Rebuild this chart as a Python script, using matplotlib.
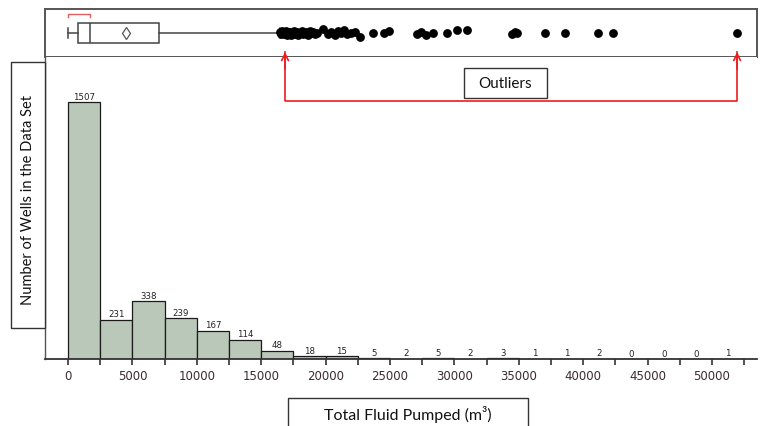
import matplotlib.pyplot as plt
from matplotlib.patches import Rectangle

# histogram of total fluid pumped per well (bin width 2500 m3)
bin_starts = [0, 2500, 5000, 7500, 10000, 12500, 15000, 17500, 20000, 22500, 25000,
              27500, 30000, 32500, 35000, 37500, 40000, 42500, 45000, 47500, 50000]
counts = [1507, 231, 338, 239, 167, 114, 48, 18, 15, 5, 2,
          5, 2, 3, 1, 1, 2, 0, 0, 0, 1]
bin_width = 2500
tick_labels = [0, 5000, 10000, 15000, 20000, 25000, 30000, 35000, 40000, 45000, 50000]

# box plot summary
q1, median, q3 = 776, 1708, 7065
mean_val = 4503
whisker_lo, whisker_hi = 0, 16460
outliers = [16470, 16560, 16650, 16740, 16820, 16900, 16990, 17080, 17170, 17260,
            17350, 17440, 17540, 17640, 17760, 17880, 18000, 18130, 18260, 18380,
            18500, 18620, 18750, 18900, 19050, 19200, 19350, 19800, 20150, 20400,
            20700, 21000, 21200, 21450, 21700, 22000, 22300, 22700, 23700, 24500,
            24950, 27100, 27400, 27800, 28300, 29400, 30200, 31000, 34500, 34700,
            34850, 37000, 38600, 41150, 42300, 51950]
jitter = [0.02, -0.03, 0.04, -0.02, 0.0, 0.05, -0.04, 0.02, -0.01, 0.03,
          -0.05, 0.01, 0.04, -0.02, 0.03, -0.04, 0.01, 0.05, -0.03, 0.0,
          0.02, -0.05, 0.04, -0.01, 0.03, -0.03, 0.0, 0.08, -0.02, 0.03,
          -0.05, 0.04, -0.01, 0.06, -0.03, 0.0, 0.03, -0.08, 0.0, 0.01,
          0.04, -0.02, 0.02, -0.04, -0.01, 0.0, 0.06, 0.06, -0.02, 0.03,
          0.0, 0.0, 0.0, 0.0, 0.0, 0.0]

W, H = 761, 427
fig = plt.figure(figsize=(W / 100, H / 100), dpi=100)

x_lo, x_hi = -1786, 53494
ax_box = fig.add_axes([45 / W, 1 - 58 / H, 712 / W, 48 / H])
ax = fig.add_axes([45 / W, 1 - 360 / H, 712 / W, 302 / H], sharex=ax_box)

# ---- histogram
ax.bar(bin_starts, counts, width=bin_width, align='edge', color='#bac8b9',
       edgecolor='#1a1a1a', linewidth=0.9)
for xs, c in zip(bin_starts, counts):
    ax.text(xs + bin_width / 2, c + 8, str(c), ha='center', va='bottom',
            fontsize=6.2, color='#222222')
ax.set_xlim(x_lo, x_hi)
ax.set_ylim(0, 1771)
ax.set_yticks([])
for s in ['top', 'right']:
    ax.spines[s].set_visible(False)
ax.spines['bottom'].set_linewidth(1.3)
ax.spines['bottom'].set_color('#333333')
ax.spines['left'].set_linewidth(1.0)
ax.spines['left'].set_color('#555555')
ax.set_xticks(bin_starts + [52500])
ax.set_xticklabels([str(b) if b in tick_labels else '' for b in bin_starts + [52500]],
                   fontsize=8.5, color='#3b2b30')
ax.tick_params(axis='x', length=4, width=1.2, color='#333333', pad=3)

# ---- box plot
stats = [dict(q1=q1, med=median, q3=q3, mean=mean_val, whislo=whisker_lo,
              whishi=whisker_hi, fliers=[])]
line_kw = dict(color='#444444', linewidth=1.1)
ax_box.bxp(stats, positions=[0.5], widths=0.4, vert=False, showmeans=True,
           showfliers=False, patch_artist=True,
           boxprops=dict(facecolor='white', edgecolor='#444444', linewidth=1.1),
           medianprops=line_kw, whiskerprops=line_kw, capprops=line_kw,
           meanprops=dict(marker='d', markerfacecolor='white', markeredgecolor='#555555',
                          markersize=6, markeredgewidth=0.9))
ax_box.plot(outliers, [0.5 + j for j in jitter], 'o', color='black', markersize=5.3,
            zorder=5)
ax_box.plot([whisker_lo, whisker_lo, median, median], [0.83, 0.9, 0.9, 0.83],
            color='#e06060', linewidth=1.0)
ax_box.set_ylim(0, 1)
ax_box.set_yticks([])
ax_box.tick_params(axis='x', bottom=False, labelbottom=False)
for s in ax_box.spines.values():
    s.set_linewidth(1.4)
    s.set_color('#555555')

# ---- outlier annotation
tr = ax.get_xaxis_transform()
red = '#ee1c1c'
ax.plot([outliers[0] + 380, outliers[0] + 380, outliers[-1], outliers[-1]],
        [1.0166, 0.854, 0.854, 1.0166], transform=tr, color=red, linewidth=1.2,
        clip_on=False)
for xv in [outliers[0] + 380, outliers[-1]]:
    ax.annotate('', xy=(xv, 1.0166), xytext=(xv, 0.96), xycoords=tr, textcoords=tr,
                arrowprops=dict(arrowstyle='->', color=red, lw=1.2,
                                mutation_scale=12, shrinkA=0, shrinkB=0),
                annotation_clip=False)

fig.add_artist(Rectangle((464 / W, 1 - 99 / H), 83 / W, 30 / H, transform=fig.transFigure,
                         facecolor='white', edgecolor='#333333', linewidth=1.0))
fig.text(505.5 / W, 1 - 84 / H, 'Outliers', ha='center', va='center',
         fontsize=11, family='Lato', color='#111111')

# ---- axis label boxes
fig.add_artist(Rectangle((11 / W, 1 - 329 / H), 34 / W, 266 / H, transform=fig.transFigure,
                         facecolor='white', edgecolor='#333333', linewidth=1.0))
fig.text(28 / W, 1 - 200 / H, 'Number of Wells in the Data Set', ha='center',
         va='center', rotation=90, fontsize=10.5, family='Lato', color='#111111')
fig.add_artist(Rectangle((288 / W, -0.05), 240 / W, 1 - 399 / H + 0.05,
                         transform=fig.transFigure, facecolor='white',
                         edgecolor='#333333', linewidth=1.0))
fig.text(408 / W, 1 - 415 / H, 'Total Fluid Pumped (m³)', ha='center', va='center',
         fontsize=11.5, family='Lato', color='#111111')

fig.savefig('out.png', dpi=100)
